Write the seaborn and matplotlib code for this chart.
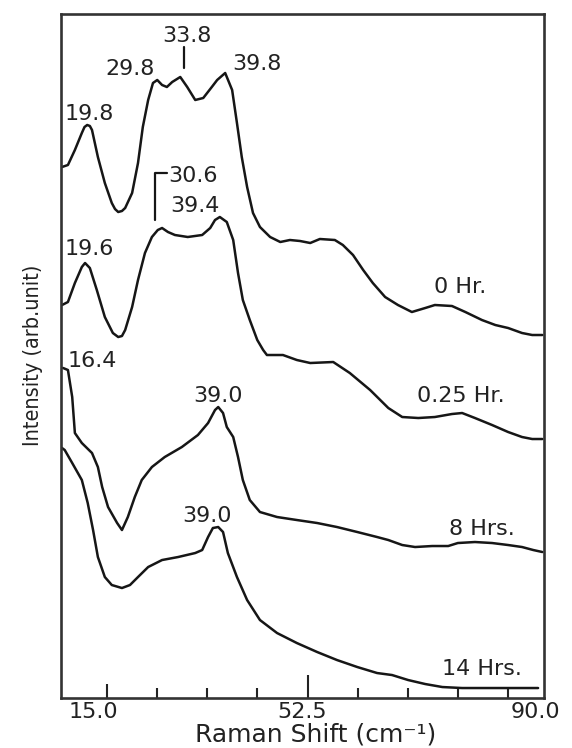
import matplotlib
matplotlib.use("Agg")
import matplotlib.pyplot as plt
from matplotlib import font_manager
from matplotlib.transforms import ScaledTranslation
import pandas as pd
import seaborn as sns

# Raman spectra (stacked, arbitrary intensity) after different times
shift_0h = [6.6, 7.7, 9.0, 10.3, 10.8, 11.3, 11.8, 12.2, 13.3, 14.6, 15.9, 16.5, 17.1, 17.8, 18.4,
            19.7, 20.8, 21.7, 22.7, 23.6, 24.4, 25.3, 26.2, 27.2, 28.7, 30.0, 31.5, 33.0, 34.6,
            35.6, 37.1, 38.4, 39.3, 40.2, 41.2, 42.3, 43.6, 45.5, 47.4, 49.2, 51.1, 53.0, 54.8,
            57.6, 59.1, 61.0, 62.9, 64.7, 67.0, 69.4, 72.0, 74.5, 76.3, 79.5, 82.0, 85.1, 87.6,
            90.0, 92.6, 94.5, 96.4]
int_0h = [5.31, 5.33, 5.48, 5.65, 5.71, 5.73, 5.72, 5.68, 5.41, 5.15, 4.95, 4.89, 4.86, 4.87, 4.90,
          5.05, 5.35, 5.71, 5.98, 6.15, 6.18, 6.13, 6.11, 6.16, 6.21, 6.11, 5.98, 6.00, 6.11,
          6.18, 6.25, 6.08, 5.75, 5.41, 5.11, 4.85, 4.71, 4.61, 4.56, 4.58, 4.57, 4.55, 4.59,
          4.58, 4.53, 4.43, 4.28, 4.15, 4.01, 3.93, 3.86, 3.90, 3.93, 3.92, 3.86, 3.78, 3.73,
          3.70, 3.65, 3.63, 3.63]

shift_025h = [6.6, 7.7, 9.0, 10.3, 10.9, 11.8, 13.1, 14.6, 16.1, 17.1, 17.8, 18.4, 19.7, 20.8,
              22.1, 23.4, 24.5, 25.3, 26.4, 27.7, 30.1, 32.8, 34.3, 35.2, 36.1, 37.4, 38.6, 39.5,
              40.4, 41.7, 43.1, 44.2, 44.9, 47.9, 50.5, 53.0, 57.3, 60.4, 64.2, 67.6, 70.2, 73.2,
              76.3, 79.5, 81.4, 83.8, 87.0, 90.0, 92.6, 94.5, 96.4]
int_025h = [3.93, 3.96, 4.15, 4.31, 4.35, 4.30, 4.08, 3.81, 3.65, 3.61, 3.62, 3.68, 3.91, 4.18,
            4.45, 4.61, 4.68, 4.70, 4.66, 4.63, 4.61, 4.63, 4.70, 4.78, 4.81, 4.76, 4.58, 4.25,
            3.98, 3.78, 3.58, 3.48, 3.43, 3.43, 3.38, 3.35, 3.36, 3.25, 3.08, 2.90, 2.81, 2.80,
            2.81, 2.84, 2.85, 2.80, 2.73, 2.66, 2.61, 2.59, 2.59]

shift_8h = [6.8, 7.7, 8.5, 9.0, 10.3, 12.2, 13.3, 14.1, 15.2, 16.9, 17.8, 18.9, 20.2, 21.5,
            23.4, 25.8, 29.0, 32.0, 33.9, 35.2, 35.8, 36.7, 37.4, 38.6, 39.5, 40.4, 41.7, 43.6,
            46.8, 50.5, 54.3, 58.0, 61.8, 65.5, 67.6, 70.2, 72.6, 75.8, 78.8, 80.6, 83.8, 87.0,
            90.0, 92.6, 94.7, 96.4]
int_8h = [3.30, 3.28, 3.01, 2.65, 2.55, 2.45, 2.31, 2.11, 1.91, 1.75, 1.68, 1.81, 2.01, 2.18,
          2.31, 2.41, 2.51, 2.63, 2.75, 2.88, 2.91, 2.85, 2.71, 2.61, 2.41, 2.18, 1.98, 1.86,
          1.81, 1.78, 1.75, 1.71, 1.66, 1.61, 1.58, 1.53, 1.51, 1.52, 1.52, 1.55, 1.56, 1.55,
          1.53, 1.51, 1.48, 1.46]

shift_14h = [6.6, 7.1, 8.5, 10.3, 11.4, 12.4, 13.3, 14.6, 15.9, 17.8, 19.3, 20.8, 22.7, 25.3,
             28.3, 31.5, 32.8, 33.9, 34.8, 35.8, 36.7, 37.6, 39.3, 41.2, 43.6, 46.8, 50.5, 54.3,
             58.0, 61.8, 65.5, 68.3, 71.3, 74.5, 77.7, 81.4, 87.0, 91.3, 95.6]
int_14h = [2.50, 2.48, 2.35, 2.18, 1.95, 1.68, 1.41, 1.21, 1.13, 1.10, 1.13, 1.21, 1.31, 1.38,
           1.41, 1.45, 1.48, 1.61, 1.70, 1.71, 1.66, 1.45, 1.21, 0.98, 0.78, 0.65, 0.55, 0.46,
           0.38, 0.31, 0.25, 0.23, 0.18, 0.14, 0.11, 0.10, 0.10, 0.10, 0.10]

series_names = ["0 Hr.", "0.25 Hr.", "8 Hrs.", "14 Hrs."]
tick_values = [15.0, 52.5, 90.0]
tick_labels = ["15.0", "52.5", "90.0"]

frames = []
for name, xs, ys in zip(series_names,
                        [shift_0h, shift_025h, shift_8h, shift_14h],
                        [int_0h, int_025h, int_8h, int_14h]):
    frames.append(pd.DataFrame({"shift": xs, "intensity": ys, "time": name}))
spectra = pd.concat(frames, ignore_index=True)

sns.set_style("white")
plt.rcParams["font.family"] = ["DejaVu Sans"]

# narrow face for the vertical axis title, if one is installed
ylab_font = dict(family=["DejaVu Sans"], fontsize=13.5)
for f in font_manager.fontManager.ttflist:
    if f.name == "Liberation Sans Narrow" and f.weight in (400, "normal", "regular"):
        ylab_font = dict(family=["Liberation Sans Narrow"], fontsize=19)
        break
    if f.name == "DejaVu Sans" and str(f.stretch) in ("condensed", "semi-condensed") \
            and f.weight in (400, "normal", "regular") and f.style == "normal":
        ylab_font = dict(family=["DejaVu Sans"], fontstretch="condensed", fontsize=15.5)

fig = plt.figure(figsize=(5.72, 7.48), dpi=100)
ax = fig.add_axes([0.1066, 0.0668, 0.8444, 0.9145])

ink = "#161616"
sns.lineplot(data=spectra, x="shift", y="intensity", units="time", estimator=None,
             color=ink, linewidth=1.8, ax=ax, legend=False)
for ln in ax.lines:
    ln.set_solid_joinstyle("round")
    ln.set_solid_capstyle("round")

ax.set_xlim(6.4, 96.7)
ax.set_ylim(0, 6.84)

# frame
for side in ["left", "right", "top", "bottom"]:
    ax.spines[side].set_visible(True)
    ax.spines[side].set_linewidth(1.9)
    ax.spines[side].set_color("#333333")

# ticks: inward, bottom only
ax.set_yticks([])
ax.set_xticks(tick_values)
ax.set_xticklabels(tick_labels)
ax.set_xticks([15 + 9.375 * k for k in range(1, 8) if k != 4], minor=True)
ax.tick_params(axis="x", which="major", direction="in", length=10, width=1.5,
               color="#222222", pad=3, labelsize=16, labelcolor="#222222",
               top=False, bottom=True)
ax.tick_params(axis="x", which="minor", direction="in", length=7, width=1.5,
               color="#222222", top=False, bottom=True)
major = ax.xaxis.get_major_ticks()
major[1].tick1line.set_markersize(16.5)
major[2].tick1line.set_markersize(7)
for lab, dx in zip(ax.get_xticklabels(), [-14, -5, 27]):
    lab.set_transform(lab.get_transform() + ScaledTranslation(dx / 100, 0, fig.dpi_scale_trans))

ax.set_xlabel("Raman Shift (cm⁻¹)", fontsize=18, color="#222222", labelpad=0)
ax.xaxis.label.set_x(0.528)
ax.set_ylabel("")
fig.text(0.058, 0.525, "Intensity (arb.unit)", rotation=90, ha="center", va="center",
         color="#222222", **ylab_font)

txt = dict(fontsize=16, color="#222222", va="baseline")
# peak labels
ax.text(7.1, 5.78, "19.8", ha="left", **txt)
ax.text(19.3, 6.23, "29.8", ha="center", **txt)
ax.text(30.0, 6.56, "33.8", ha="center", **txt)
ax.text(43.1, 6.28, "39.8", ha="center", **txt)
ax.text(26.4, 5.16, "30.6", ha="left", **txt)
ax.text(26.8, 4.86, "39.4", ha="left", **txt)
ax.text(7.1, 4.43, "19.6", ha="left", **txt)
ax.text(7.7, 3.31, "16.4", ha="left", **txt)
ax.text(35.8, 2.96, "39.0", ha="center", **txt)
ax.text(33.7, 1.76, "39.0", ha="center", **txt)

# leader marks
ax.plot([29.4, 29.4], [6.30, 6.51], color=ink, lw=1.6)
ax.plot([24.0, 24.0, 26.2], [4.78, 5.25, 5.25], color=ink, lw=1.6)

# series labels
ax.text(81.0, 4.05, series_names[0], ha="center", **txt)
ax.text(81.2, 2.96, series_names[1], ha="center", **txt)
ax.text(85.0, 1.63, series_names[2], ha="center", **txt)
ax.text(85.1, 0.23, series_names[3], ha="center", **txt)

fig.savefig("out.png", dpi=100)
